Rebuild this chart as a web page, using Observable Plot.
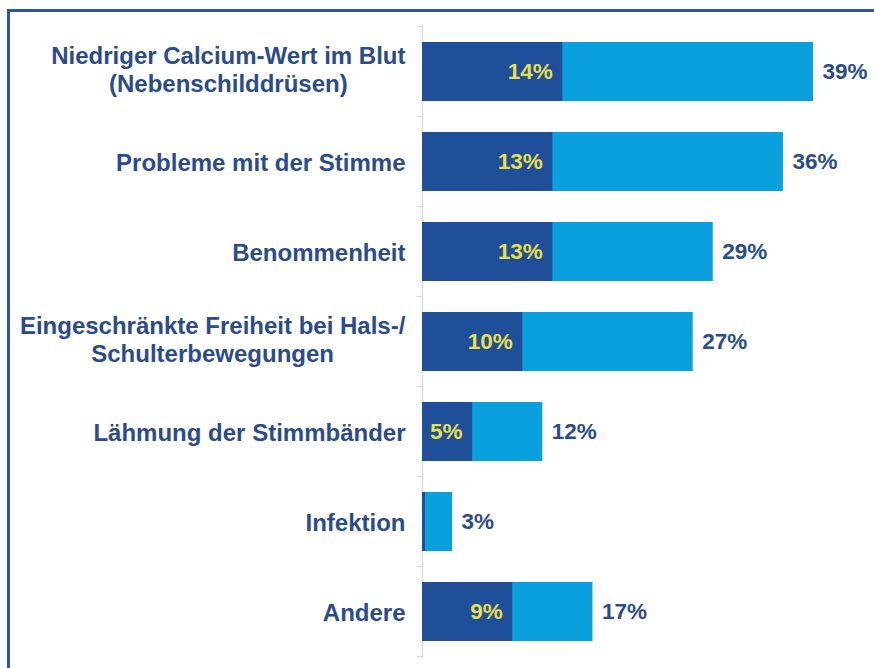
<!DOCTYPE html>
<html>
<head>
<meta charset="utf-8">
<script src="https://cdn.jsdelivr.net/npm/d3@7"></script>
<script src="https://cdn.jsdelivr.net/npm/@observablehq/plot@0.6"></script>
<style>
  html, body { margin: 0; padding: 0; background: #fff; }
  #wrap { position: relative; width: 874px; height: 668px; overflow: hidden; }
  #frame { position: absolute; left: 7px; top: 9px; width: 880px; height: 700px;
           border-left: 3px solid #2a58a0; border-top: 3px solid #2a58a0; box-sizing: border-box; }
  #chart { position: absolute; left: 0; top: 0; }
</style>
</head>
<body>
<div id="wrap"><div id="frame"></div><div id="chart"></div></div>
<script>
const categories = [
  "Niedriger Calcium-Wert im Blut\n(Nebenschilddrüsen)",
  "Probleme mit der Stimme",
  "Benommenheit",
  "Eingeschränkte Freiheit bei Hals-/\nSchulterbewegungen",
  "Lähmung der Stimmbänder",
  "Infektion",
  "Andere"
];
const totalValues = [39, 36, 29, 27, 12, 3, 17];
const innerValues = [14, 13, 13, 10, 5, 0.3, 9];
const innerLabels = ["14%", "13%", "13%", "10%", "5%", "", "9%"];
const totalLabels = ["39%", "36%", "29%", "27%", "12%", "3%", "17%"];

const rows = categories.map((c, i) => ({
  cat: c, total: totalValues[i], inner: innerValues[i],
  innerLabel: innerLabels[i], totalLabel: totalLabels[i]
}));

const labelColor = "#2b4c8c";
const font = "'Liberation Sans', Arial, sans-serif";

const plot = Plot.plot({
  width: 874,
  height: 668,
  marginLeft: 422,
  marginRight: 61,
  marginTop: 25,
  marginBottom: 10,
  style: { fontFamily: font, background: "transparent" },
  x: { domain: [0, 39], axis: null },
  y: { domain: categories, paddingInner: 0.34, paddingOuter: 0.17, axis: null },
  marks: [
    Plot.ruleX([0], { stroke: "#d8d8d8", strokeWidth: 1.2 }),
    Plot.barX(rows, { y: "cat", x: "total", fill: "#0aa0de" }),
    Plot.barX(rows, { y: "cat", x: "inner", fill: "#1e4f98" }),
    Plot.text(rows, { y: "cat", x: "inner", text: "innerLabel", textAnchor: "end", dx: -10,
      fill: "#e8df4c", fontWeight: "bold", fontSize: 22.5 }),
    Plot.text(rows, { y: "cat", x: "total", text: "totalLabel", textAnchor: "start", dx: 9,
      fill: labelColor, fontWeight: "bold", fontSize: 22.5 }),
    Plot.text(rows, { y: "cat", x: 0, text: "cat", textAnchor: "end", dx: -17,
      fill: labelColor, fontWeight: "bold", fontSize: 24, lineHeight: 1.17, className: "catlabel" })
  ]
});
document.getElementById("chart").appendChild(plot);

// center multi-line category labels around their own middle (right edge kept)
d3.select(plot).selectAll("g.catlabel text").each(function () {
  const tspans = this.querySelectorAll("tspan");
  if (tspans.length > 1) {
    const w = this.getBBox().width;
    this.setAttribute("text-anchor", "middle");
    const t = this.getAttribute("transform") || "";
    this.setAttribute("transform", t + ` translate(${-w / 2},-3)`);
  }
});

// small tick marks at band boundaries on the axis line
const y = plot.scale("y");
const step = y.step;
const bounds = categories.map(c => y.apply(c) - (step - y.bandwidth) / 2);
bounds.push(y.apply(categories[categories.length - 1]) + y.bandwidth + (step - y.bandwidth) / 2);
const x0 = plot.scale("x").apply(0);
d3.select(plot).append("g").selectAll("line").data(bounds).join("line")
  .attr("x1", x0 - 5).attr("x2", x0).attr("y1", d => d).attr("y2", d => d)
  .attr("stroke", "#d8d8d8").attr("stroke-width", 1.2);
</script>
</body>
</html>
